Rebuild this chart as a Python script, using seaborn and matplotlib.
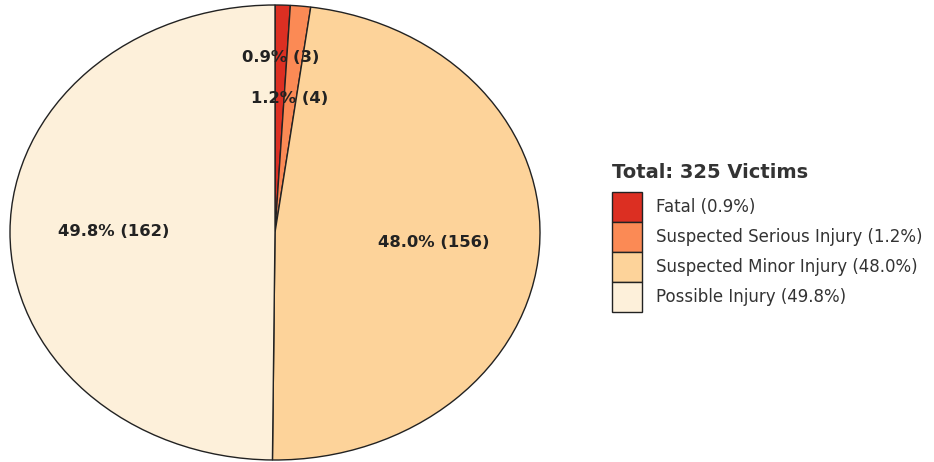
import matplotlib
matplotlib.use("Agg")
import matplotlib.pyplot as plt
import seaborn as sns
import numpy as np
from matplotlib.patches import Patch

categories = ["Fatal", "Suspected Serious Injury", "Suspected Minor Injury", "Possible Injury"]
counts = [3, 4, 156, 162]
percents = ["0.9%", "1.2%", "48.0%", "49.8%"]
colors = ["#dc2f22", "#fb8a55", "#fdd39a", "#fdf0da"]
label_radius = [0.77, 0.59, 0.60, 0.61]
total_title = "Total: 325 Victims"

sns.set_theme(style="white")
plt.rcParams['font.family'] = ['DejaVu Sans']

fig = plt.figure(figsize=(9.34, 4.62), dpi=100)
W, H = 934, 462
ax = fig.add_axes([10 / W, (H - 460) / H, 530 / W, 455 / H])

wedges, _ = ax.pie(counts, colors=colors, startangle=90, counterclock=False,
                   wedgeprops=dict(edgecolor="#222222", linewidth=1.0),
                   normalize=True)
ax.set_aspect("auto")
ax.set_xlim(-1.0, 1.0)
ax.set_ylim(-1.0, 1.0)
ax.axis("off")

tot = sum(counts)
cum = 0
for i, c in enumerate(counts):
    mid = cum + c / 2
    cum += c
    ang = np.deg2rad(90 - 360 * mid / tot)
    r = label_radius[i]
    ax.text(r * np.cos(ang), r * np.sin(ang), f"{percents[i]} ({c})",
            ha="center", va="center", fontsize=11.8, fontweight="bold", color="#222222")

fig.text(612 / W, 1 - 172 / H, total_title, ha="left", va="center",
         fontsize=14, fontweight="bold", color="#333333")

fs = 12
fs_px = fs * 100 / 72
hl = 30 / fs_px
hh = (30 / fs_px - 0.245) / 0.65
handles = [Patch(facecolor=colors[i], edgecolor="#222222", linewidth=1.0) for i in range(4)]
labels = [f"{categories[i]} ({percents[i]})" for i in range(4)]
leg = fig.legend(handles, labels, loc="upper left", bbox_to_anchor=(612 / W, 1 - 192 / H),
                 frameon=False, fontsize=fs,
                 handlelength=hl, handleheight=hh, labelspacing=0.0,
                 handletextpad=0.85, borderpad=0, borderaxespad=0)
for t in leg.get_texts():
    t.set_color("#333333")

fig.savefig("out.png", dpi=100, facecolor="white")
